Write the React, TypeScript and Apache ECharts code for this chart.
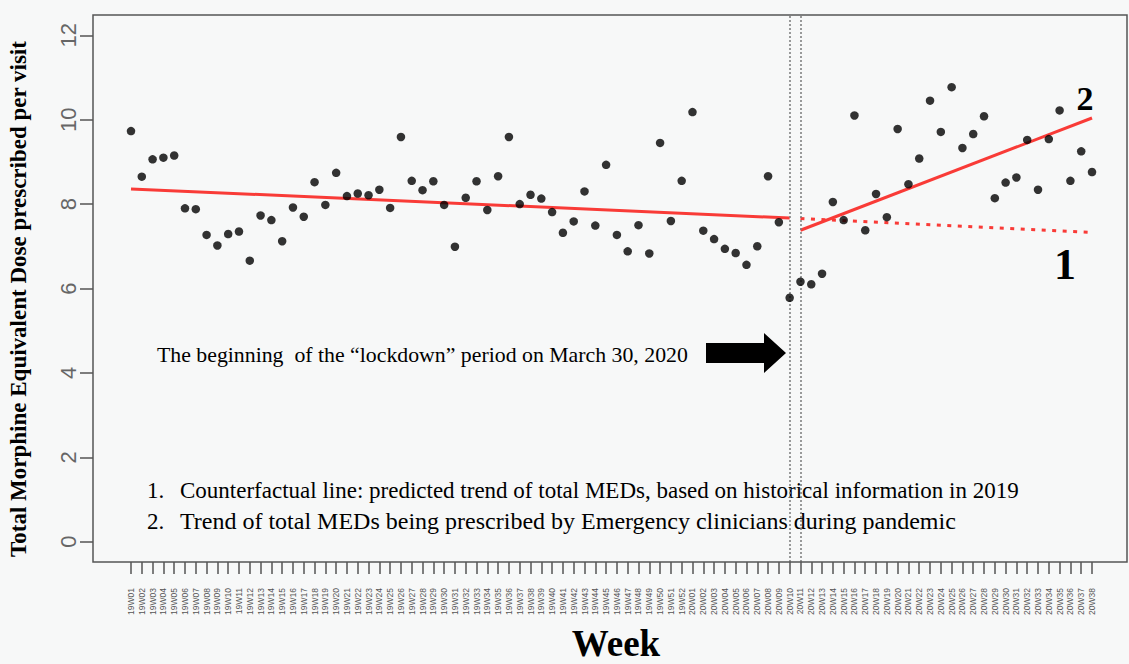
import React, { useEffect, useRef } from "react";
import * as echarts from "echarts";

const weeks = [
  "19W01","19W02","19W03","19W04","19W05","19W06","19W07","19W08","19W09","19W10",
  "19W11","19W12","19W13","19W14","19W15","19W16","19W17","19W18","19W19","19W20",
  "19W21","19W22","19W23","19W24","19W25","19W26","19W27","19W28","19W29","19W30",
  "19W31","19W32","19W33","19W34","19W35","19W36","19W37","19W38","19W39","19W40",
  "19W41","19W42","19W43","19W44","19W45","19W46","19W47","19W48","19W49","19W50",
  "19W51","19W52","20W01","20W02","20W03","20W04","20W05","20W06","20W07","20W08",
  "20W09","20W10","20W11","20W12","20W13","20W14","20W15","20W16","20W17","20W18",
  "20W19","20W20","20W21","20W22","20W23","20W24","20W25","20W26","20W27","20W28",
  "20W29","20W30","20W31","20W32","20W33","20W34","20W35","20W36","20W37","20W38",
];

const medPerVisit = [
  9.73, 8.65, 9.06, 9.10, 9.15, 7.90, 7.88, 7.27, 7.02, 7.29,
  7.35, 6.66, 7.73, 7.62, 7.12, 7.92, 7.70, 8.52, 7.98, 8.74,
  8.19, 8.25, 8.21, 8.34, 7.91, 9.59, 8.55, 8.33, 8.54, 7.98,
  6.99, 8.15, 8.54, 7.86, 8.66, 9.59, 8.00, 8.22, 8.13, 7.81,
  7.32, 7.59, 8.30, 7.49, 8.93, 7.27, 6.88, 7.50, 6.83, 9.45,
  7.60, 8.55, 10.18, 7.37, 7.17, 6.94, 6.84, 6.56, 7.00, 8.66,
  7.57, 5.78, 6.16, 6.10, 6.35, 8.05, 7.62, 10.10, 7.38, 8.24,
  7.69, 9.78, 8.47, 9.08, 10.45, 9.71, 10.77, 9.33, 9.66, 10.08,
  8.14, 8.51, 8.63, 9.52, 8.34, 9.54, 10.22, 8.55, 9.25, 8.76,
];

const preTrend = [["19W01", 8.36], ["20W10", 7.67]];
const counterfactualTrend = [["20W11", 7.66], ["20W38", 7.33]];
const pandemicTrend = [["20W11", 7.38], ["20W38", 10.04]];
const lockdownWeeks = ["20W10", "20W11"];
const yTickValues = [0, 2, 4, 6, 8, 10, 12];
const yMin = -0.48;
const yMax = 12.48;

const SERIF = "'Liberation Serif', 'Times New Roman', serif";
const SANS = "'Liberation Sans', Arial, sans-serif";
const RED = "#f93b37";

export default function App() {
  const ref = useRef<HTMLDivElement>(null);

  useEffect(() => {
    document.body.style.margin = "0";
    const chart = echarts.init(ref.current!, null, { renderer: "svg" });
    const option: any = {
      animation: false,
      backgroundColor: "#f7f8f8",
      grid: { left: 125.6, right: 31.6, top: 15, bottom: 102, containLabel: false },
      xAxis: {
        type: "category",
        data: weeks,
        boundaryGap: true,
        axisLine: { show: false, onZero: false },
        axisTick: { show: true, alignWithLabel: true, interval: 0, length: 12, lineStyle: { color: "#555", width: 1.5 } },
        axisLabel: { interval: 0, rotate: 90, fontSize: 8.5, color: "#555", margin: 26, fontFamily: SANS },
        splitLine: { show: false },
      },
      yAxis: {
        type: "value",
        min: yMin,
        max: yMax,
        offset: 32.6,
        axisLine: { show: false, onZero: false },
        axisTick: { show: true, length: 13, customValues: yTickValues, lineStyle: { color: "#555", width: 1.5 } },
        axisLabel: { rotate: 90, fontSize: 22, color: "#666", margin: 14, fontFamily: SANS, customValues: yTickValues },
        splitLine: { show: false },
      },
      series: [
        {
          type: "scatter",
          data: medPerVisit,
          symbolSize: 8.5,
          itemStyle: { color: "#000" },
          z: 5,
          markLine: {
            silent: true,
            symbol: ["none", "none"],
            label: { show: false },
            lineStyle: { color: "#7a7a7a", type: [2, 2], width: 1.5 },
            data: lockdownWeeks.map((w) => ({ xAxis: w })),
          },
        },
        {
          type: "line",
          data: preTrend,
          symbol: "none",
          lineStyle: { color: RED, width: 3 },
          z: 4,
        },
        {
          type: "line",
          data: counterfactualTrend,
          symbol: "none",
          lineStyle: { color: RED, width: 3, type: [4, 6.5] },
          z: 4,
        },
        {
          type: "line",
          data: pandemicTrend,
          symbol: "none",
          lineStyle: { color: RED, width: 3 },
          z: 4,
        },
      ],
      graphic: [
        {
          type: "rect",
          shape: { x: 93, y: 15, width: 1034, height: 547 },
          style: { fill: "none", stroke: "#555", lineWidth: 1.5 },
          silent: true,
          z: 10,
        },
        {
          type: "text",
          x: 18,
          y: 299,
          rotation: Math.PI / 2,
          style: {
            text: "Total Morphine Equivalent Dose prescribed per visit",
            font: `bold 23px ${SERIF}`,
            fill: "#000",
            align: "center",
            verticalAlign: "middle",
          },
        },
        {
          type: "text",
          x: 616,
          y: 643,
          style: {
            text: "Week",
            font: `bold 37px ${SERIF}`,
            fill: "#000",
            align: "center",
            verticalAlign: "middle",
          },
        },
        {
          type: "text",
          x: 157,
          y: 355,
          style: {
            text: "The beginning  of the \u201clockdown\u201d period on March 30, 2020",
            font: `21.8px ${SERIF}`,
            fill: "#000",
            align: "left",
            verticalAlign: "middle",
          },
        },
        {
          type: "polygon",
          shape: {
            points: [[706, 343], [764, 343], [764, 333], [786, 353], [764, 373], [764, 363], [706, 363]],
          },
          style: { fill: "#000" },
        },
        {
          type: "text",
          x: 147,
          y: 490,
          style: { text: "1.", font: `23px ${SERIF}`, fill: "#000", verticalAlign: "middle" },
        },
        {
          type: "text",
          x: 180,
          y: 490,
          style: {
            text: "Counterfactual line: predicted trend of total MEDs, based on historical information in 2019",
            font: `23px ${SERIF}`,
            fill: "#000",
            verticalAlign: "middle",
          },
        },
        {
          type: "text",
          x: 147,
          y: 521,
          style: { text: "2.", font: `23px ${SERIF}`, fill: "#000", verticalAlign: "middle" },
        },
        {
          type: "text",
          x: 180,
          y: 521,
          style: {
            text: "Trend of total MEDs being prescribed by Emergency clinicians during pandemic",
            font: `24px ${SERIF}`,
            fill: "#000",
            verticalAlign: "middle",
          },
        },
        {
          type: "text",
          x: 1085,
          y: 98,
          style: { text: "2", font: `bold 34px ${SERIF}`, fill: "#000", align: "center", verticalAlign: "middle" },
        },
        {
          type: "text",
          x: 1065,
          y: 264,
          style: { text: "1", font: `bold 44px ${SERIF}`, fill: "#000", align: "center", verticalAlign: "middle" },
        },
      ],
    };
    chart.setOption(option);
    return () => chart.dispose();
  }, []);

  return <div ref={ref} style={{ width: 1129, height: 664 }} />;
}
